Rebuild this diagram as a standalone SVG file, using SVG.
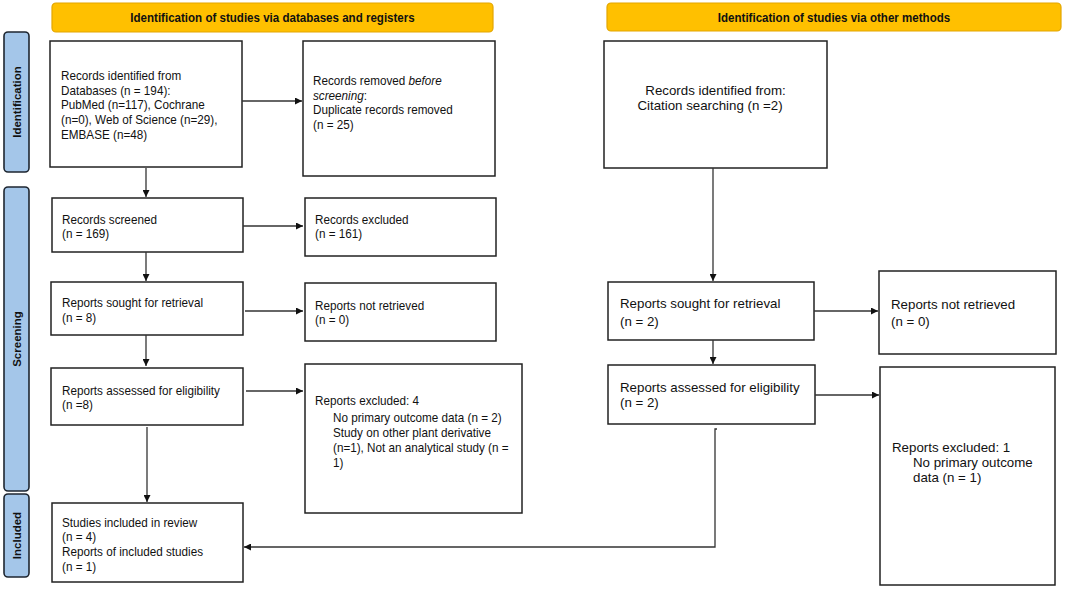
<svg xmlns="http://www.w3.org/2000/svg" width="1065" height="589" viewBox="0 0 1065 589">
<style>
.hdr{fill:#FFC000;stroke:#E3A600;stroke-width:1.2}
.side{fill:#A4C6E9;stroke:#1E2630;stroke-width:1.6}
.box{fill:#fff;stroke:#222;stroke-width:1.5}
.t{font-family:"Liberation Sans",Arial,sans-serif;font-size:13px;fill:#111}
.tr{font-family:"Liberation Sans",Arial,sans-serif;font-size:13.3px;fill:#111}
.ht{font-family:"Liberation Sans",Arial,sans-serif;font-size:12.5px;font-weight:bold;fill:#111;text-anchor:middle}
.st{font-family:"Liberation Sans",Arial,sans-serif;font-size:11.5px;font-weight:bold;fill:#111;text-anchor:middle}
.c{fill:none;stroke:#333;stroke-width:1.3}
</style>
<defs>
<marker id="ah" viewBox="0 0 10 10" refX="10" refY="5" markerWidth="7" markerHeight="7" markerUnits="userSpaceOnUse" orient="auto">
<path d="M0,0 L10,5 L0,10 z" fill="#111"/>
</marker>
</defs>
<rect width="1065" height="589" fill="#fff"/>

<g id="header-databases"><rect class="hdr" x="52" y="3" width="441" height="29" rx="4"/><text class="ht" transform="matrix(0.925 0 0 1 272.5 22)" x="0" y="0">Identification of studies via databases and registers</text></g>
<g id="header-other"><rect class="hdr" x="607" y="3" width="454" height="28" rx="4"/><text class="ht" transform="matrix(0.925 0 0 1 834 21.5)" x="0" y="0">Identification of studies via other methods</text></g>

<g id="side-identification"><rect class="side" x="4" y="32" width="25" height="140" rx="4"/><text class="st" transform="translate(20.5,102) rotate(-90)">Identification</text></g>
<g id="side-screening"><rect class="side" x="4" y="187" width="25" height="304" rx="4"/><text class="st" transform="translate(20.5,339) rotate(-90)">Screening</text></g>
<g id="side-included"><rect class="side" x="4" y="494" width="25" height="83" rx="4"/><text class="st" transform="translate(20.5,535.5) rotate(-90)">Included</text></g>

<g id="records-identified"><rect class="box" x="50" y="41" width="192" height="126"/>
<text class="t" transform="matrix(0.9 0 0 1 61 0)"><tspan x="0" y="80">Records identified from</tspan><tspan x="0" y="95">Databases (n = 194):</tspan><tspan x="0" y="109">PubMed (n=117), Cochrane</tspan><tspan x="0" y="124">(n=0), Web of Science (n=29),</tspan><tspan x="0" y="139">EMBASE (n=48)</tspan></text></g>

<g id="records-removed"><rect class="box" x="303" y="41" width="192" height="135"/>
<text class="t" transform="matrix(0.9 0 0 1 313 0)"><tspan x="0" y="85">Records removed <tspan font-style="italic">before</tspan></tspan><tspan x="0" y="100" font-style="italic">screening</tspan><tspan>:</tspan><tspan x="0" y="114">Duplicate records removed</tspan><tspan x="0" y="129">(n = 25)</tspan></text></g>

<g id="records-screened"><rect class="box" x="52" y="198" width="191" height="54"/>
<text class="t" transform="matrix(0.9 0 0 1 62 0)"><tspan x="0" y="224">Records screened</tspan><tspan x="0" y="238">(n = 169)</tspan></text></g>

<g id="records-excluded"><rect class="box" x="305" y="198" width="191" height="58"/>
<text class="t" transform="matrix(0.9 0 0 1 315 0)"><tspan x="0" y="224">Records excluded</tspan><tspan x="0" y="238">(n = 161)</tspan></text></g>

<g id="reports-sought"><rect class="box" x="51" y="282" width="192" height="53"/>
<text class="t" transform="matrix(0.9 0 0 1 62 0)"><tspan x="0" y="307">Reports sought for retrieval</tspan><tspan x="0" y="322">(n = 8)</tspan></text></g>

<g id="reports-not-retrieved"><rect class="box" x="305" y="283" width="191" height="58"/>
<text class="t" transform="matrix(0.9 0 0 1 315 0)"><tspan x="0" y="310">Reports not retrieved</tspan><tspan x="0" y="324">(n = 0)</tspan></text></g>

<g id="reports-assessed"><rect class="box" x="51" y="368" width="192" height="57"/>
<text class="t" transform="matrix(0.9 0 0 1 62 0)"><tspan x="0" y="395">Reports assessed for eligibility</tspan><tspan x="0" y="409">(n =8)</tspan></text></g>

<g id="reports-excluded"><rect class="box" x="305" y="364" width="217" height="149"/>
<text class="t" transform="matrix(0.9 0 0 1 315 0)"><tspan x="0" y="405">Reports excluded: 4</tspan><tspan x="20" y="422">No primary outcome data (n = 2)</tspan><tspan x="20" y="437">Study on other plant derivative</tspan><tspan x="20" y="452">(n=1), Not an analytical study (n =</tspan><tspan x="20" y="467">1)</tspan></text></g>

<g id="studies-included"><rect class="box" x="52" y="503" width="191" height="79"/>
<text class="t" transform="matrix(0.9 0 0 1 62 0)"><tspan x="0" y="527">Studies included in review</tspan><tspan x="0" y="541">(n = 4)</tspan><tspan x="0" y="556">Reports of included studies</tspan><tspan x="0" y="571">(n = 1)</tspan></text></g>

<g id="citation-records"><rect class="box" x="604" y="41" width="223" height="127"/>
<text class="tr" text-anchor="middle"><tspan x="715.5" y="95">Records identified from:</tspan><tspan x="710" y="110">Citation searching (n =2)</tspan></text></g>

<g id="reports-sought-other"><rect class="box" x="608" y="282" width="206" height="58"/>
<text class="tr"><tspan x="620" y="308">Reports sought for retrieval</tspan><tspan x="620" y="326">(n = 2)</tspan></text></g>

<g id="reports-not-retrieved-other"><rect class="box" x="879" y="271" width="177" height="83"/>
<text class="tr"><tspan x="891" y="309">Reports not retrieved</tspan><tspan x="891" y="326">(n = 0)</tspan></text></g>

<g id="reports-assessed-other"><rect class="box" x="608" y="365" width="207" height="59"/>
<text class="tr"><tspan x="620" y="392">Reports assessed for eligibility</tspan><tspan x="620" y="407">(n = 2)</tspan></text></g>

<g id="reports-excluded-other"><rect class="box" x="880" y="367" width="175" height="218"/>
<text class="tr"><tspan x="892" y="452">Reports excluded: 1</tspan><tspan x="913" y="467">No primary outcome</tspan><tspan x="913" y="482">data (n = 1)</tspan></text></g>

<g id="connectors">
<line class="c" x1="242" y1="101" x2="302" y2="101" marker-end="url(#ah)"/>
<line class="c" x1="146" y1="168" x2="146" y2="197" marker-end="url(#ah)"/>
<line class="c" x1="243" y1="226" x2="303" y2="226" marker-end="url(#ah)"/>
<line class="c" x1="146" y1="252" x2="146" y2="281" marker-end="url(#ah)"/>
<line class="c" x1="245" y1="311" x2="303" y2="311" marker-end="url(#ah)"/>
<line class="c" x1="146" y1="335" x2="146" y2="366" marker-end="url(#ah)"/>
<line class="c" x1="246" y1="391" x2="303" y2="391" marker-end="url(#ah)"/>
<line class="c" x1="147" y1="427" x2="147" y2="502" marker-end="url(#ah)"/>
<line class="c" x1="713" y1="168" x2="713" y2="281" marker-end="url(#ah)"/>
<line class="c" x1="814" y1="311" x2="878" y2="311" marker-end="url(#ah)"/>
<line class="c" x1="713" y1="340" x2="713" y2="364" marker-end="url(#ah)"/>
<line class="c" x1="815" y1="395" x2="879" y2="395" marker-end="url(#ah)"/>
<path class="c" d="M717,429 L715,429 L715,547 L244,547" marker-end="url(#ah)"/>
</g>
</svg>
